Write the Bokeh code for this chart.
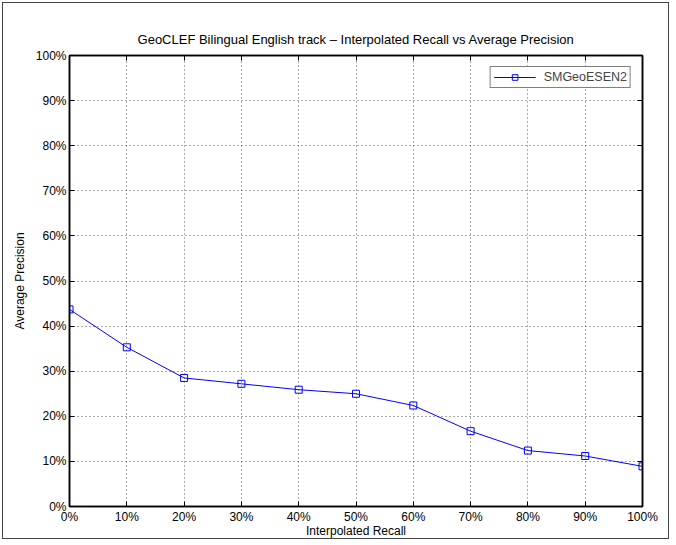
from bokeh.plotting import figure
from bokeh.models import (LinearAxis, FixedTicker, PrintfTickFormatter, Range1d, Legend,
                          LegendItem, CustomLabelingPolicy)
from bokeh.embed import file_html
from bokeh.resources import INLINE

recall = [0, 10, 20, 30, 40, 50, 60, 70, 80, 90, 100]
precision = [43.7, 35.3, 28.5, 27.2, 25.9, 25.0, 22.4, 16.7, 12.4, 11.2, 8.9]
tick_values = [0, 10, 20, 30, 40, 50, 60, 70, 80, 90, 100]
series_name = "SMGeoESEN2"
title_text = "GeoCLEF Bilingual English track \u2013 Interpolated Recall vs Average Precision"
x_label = "Interpolated Recall"
y_label = "Average Precision"

FONT = "Liberation Sans"

p = figure(width=667, height=537, output_backend="svg", toolbar_location=None,
           x_range=Range1d(0, 100), y_range=Range1d(0, 100),
           min_border_left=66, min_border_right=28, min_border_top=52, min_border_bottom=34,
           x_axis_location=None, y_axis_location=None,
           styles={"border": "1px solid #444", "margin-left": "2px", "margin-top": "2px"})

p.title.text = title_text
p.title.align = "center"
p.title.text_font = FONT
p.title.text_font_size = "13px"
p.title.text_font_style = "normal"
p.title.text_color = "#000000"
p.title.standoff = 10

ticker = FixedTicker(ticks=tick_values)
fmt = PrintfTickFormatter(format="%d%%")
no_labels = CustomLabelingPolicy(code="""
const all = [...indices];
for (const i of all) indices.unset(i);
return indices;
""")

def style_axis(ax, labels=True):
    ax.ticker = ticker
    ax.formatter = fmt
    ax.major_tick_in = 5
    ax.major_tick_out = 0
    ax.minor_tick_in = 0
    ax.minor_tick_out = 0
    ax.axis_line_color = "#000000"
    ax.axis_line_width = 1.5
    ax.major_tick_line_color = "#000000"
    ax.major_label_text_font = FONT
    ax.major_label_text_font_size = "12px"
    ax.major_label_text_color = "#000000"
    ax.axis_label_text_font = FONT
    ax.axis_label_text_font_size = "12px"
    ax.axis_label_text_font_style = "normal"
    ax.axis_label_text_color = "#000000"
    if not labels:
        ax.major_label_policy = no_labels
        ax.major_label_text_font_size = "0px"
        ax.major_label_standoff = 0

xb = LinearAxis(axis_label=x_label)
style_axis(xb)
xb.major_label_standoff = 3
xb.axis_label_standoff = -3
p.add_layout(xb, "below")

yl = LinearAxis(axis_label=y_label)
style_axis(yl)
yl.major_label_standoff = 3
yl.axis_label_standoff = 6
p.add_layout(yl, "left")

xt = LinearAxis()
style_axis(xt, labels=False)
p.add_layout(xt, "above")

# invisible spacer on top, lifts the title a little
spacer = LinearAxis()
style_axis(spacer, labels=False)
spacer.major_tick_in = 0
spacer.major_tick_out = 4
spacer.major_tick_line_color = None
spacer.axis_line_color = None
p.add_layout(spacer, "above")

yr = LinearAxis()
style_axis(yr, labels=False)
p.add_layout(yr, "right")

p.xgrid.ticker = ticker
p.ygrid.ticker = ticker
for g in (p.xgrid, p.ygrid):
    g.grid_line_color = "#555555"
    g.grid_line_dash = "1 3"
    g.grid_line_width = 1

p.outline_line_color = "#000000"
p.outline_line_width = 1.5

ln = p.line(recall, precision, line_color="#0000ff", line_width=1)
mk = p.scatter(recall, precision, marker="square", size=7, line_color="#0000ff",
               fill_color=None, line_width=1)

legend = Legend(items=[LegendItem(label=series_name, renderers=[ln, mk])],
                location="top_right")
legend.border_line_color = "#000000"
legend.border_line_width = 1
legend.background_fill_color = "#ffffff"
legend.label_text_font = FONT
legend.label_text_font_size = "12.5px"
legend.label_height = 14
legend.glyph_height = 14
legend.glyph_width = 42
legend.label_standoff = 8
legend.padding = 3
legend.margin = 11
legend.spacing = 0
p.add_layout(legend)

open("out.html", "w").write(file_html(p, INLINE))
